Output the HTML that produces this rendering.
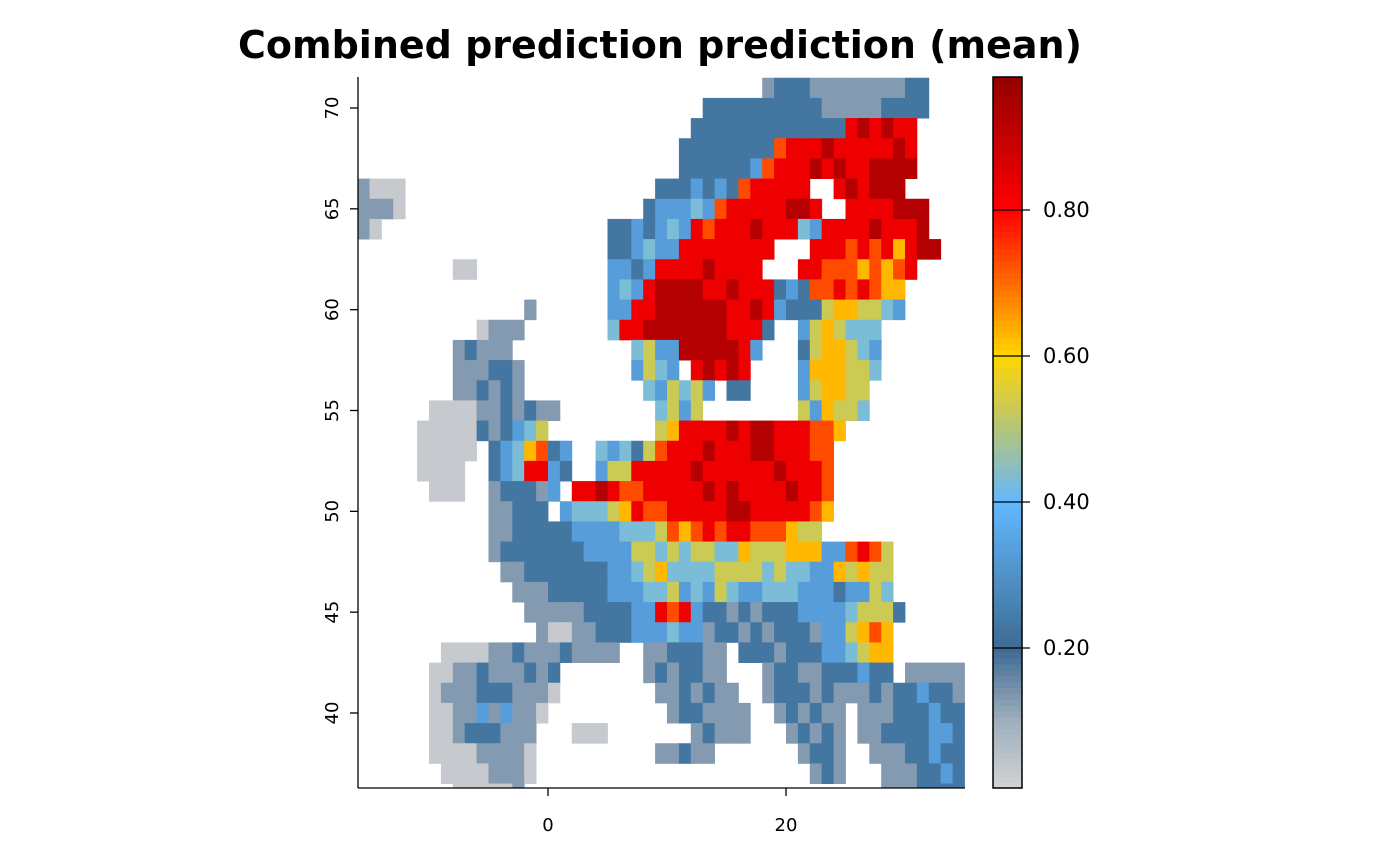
<!DOCTYPE html>
<html><head><meta charset="utf-8">
<style>
html,body{margin:0;padding:0;background:#fff;}
svg{display:block;font-family:"DejaVu Sans","Liberation Sans",sans-serif;}
</style></head>
<body>
<svg id="chart" width="1400" height="865" viewBox="0 0 1400 865" xmlns="http://www.w3.org/2000/svg">
<text x="660" y="58" text-anchor="middle" font-size="38" font-weight="bold">Combined prediction prediction (mean)</text>
<defs><clipPath id="plotclip"><rect x="358" y="77" width="607" height="711"/></clipPath></defs>
<g id="cells" clip-path="url(#plotclip)"></g>
<g id="axes"></g>
<g id="cbar"></g>
</svg>
<script>
// grid: 1-degree cells, lon -16..35, rows lat 71..36 (cell centers), digit d => value (d+0.3)/10
const lonStart = -16;
const rowLats = [71,70,69,68,67,66,65,64,63,62,61,60,59,58,57,56,55,54,53,52,51,50,49,48,47,46,45,44,43,42,41,40,39,38,37,36];
const rowSegments = [
 [[34,"12221111111122"]],
 [[29,"2222222222111112222"]],
 [[28,"2222222222222898988"]],
 [[27,"22222222788898888898"]],
 [[27,"22222237888989889999"]],
 [[0,"1000"],[25,"2223232788888..898999"]],
 [[0,"1110"],[24,"233343788888998..8888999"]],
 [[0,"10"],[21,"223234387888988843888898889"]],
 [[21,"22343388888888...88878786899"]],
 [[8,"00"],[21,"3323888898888...8877767678"]],
 [[21,"3438999988988823277878766"]],
 [[14,"1"],[21,"3388999999889832225665543"]],
 [[10,"0111"],[21,"48899999998882"],[37,"3565444"]],
 [[8,"12111"],[23,"45339999983"],[37,"2566543"]],
 [[8,"111221"],[23,"3543.89898"],[37,"3666554"]],
 [[8,"112121"],[24,"435453.22"],[37,"356655"]],
 [[6,"00001121211"],[25,"4535"],[37,"536554"]],
 [[5,"00000212345"],[25,"5688889899888776"]],
 [[5,"00000.2346723"],[20,"43425788898889988877"]],
 [[5,"0000..2348832"],[20,"35588888988888898887"]],
 [[6,"000..122213"],[18,"8898778888898988889887"]],
 [[11,"11222"],[17,"34445687788888998888876"]],
 [[11,"1122222333344457678788777655"]],
 [[11,"1222222233335545455446555666337875"]],
 [[12,"112222222334564444555545443365655"]],
 [[13,"11122222333445343543344433323354"]],
 [[14,"11111222233878322121222333345552"]],
 [[15,"100112223334331221212221335676"]],
 [[7,"000011211121111..1122211.2221222334566"]],
 [[6,"00112111212"],[24,"1212211"],[34,"12211222322"],[46,"11111"]],
 [[6,"01112221110"],[25,"1121211"],[34,"12221211121223221"]],
 [[6,"0011313110"],[26,"1221111"],[35,"121211"],[42,"111222322"]],
 [[6,"001222111"],[18,"000"],[28,"12111"],[36,"12121"],[42,"112222332"]],
 [[6,"000011110"],[25,"11211"],[37,"1221"],[43,"11122322"]],
 [[7,"00001110"],[38,"121"],[44,"1112232"]],
 [[8,"000001"],[44,"1112222"]]
];
const xTicks = [0,20];
const yTicks = [40,45,50,55,60,65,70];
const cbTicks = [0.2,0.4,0.6,0.8];
const cbTickLabels = ["0.20","0.40","0.60","0.80"];

const NS="http://www.w3.org/2000/svg";
const xs = lon => 548 + (786-548)/20*lon;
const ys = lat => 108 + (713-108)/30*(70-lat);
const cbY = v => 794 - v*(146/0.2);
const stops = [[0,[214,214,214]],[0.1,[160,175,190]],[0.2,[62,106,146]],[0.4,[99,184,255]],[0.5,[180,196,122]],[0.6,[255,215,0]],[0.8,[255,0,0]],[1,[139,0,0]]];
function col(v){
  for(let i=1;i<stops.length;i++){
    if(v<=stops[i][0]){
      const a=stops[i-1],b=stops[i],t=(v-a[0])/(b[0]-a[0]);
      const c=a[1].map((x,k)=>Math.round(x+(b[1][k]-x)*t));
      return `rgb(${c[0]},${c[1]},${c[2]})`;
    }
  }
  return "rgb(139,0,0)";
}
function mk(tag,attrs,parent){const e=document.createElementNS(NS,tag);for(const k in attrs)e.setAttribute(k,attrs[k]);parent.appendChild(e);return e;}

const cells=document.getElementById('cells');
rowSegments.forEach((segs,r)=>{
  const lat=rowLats[r];
  const y0=ys(lat+0.5), y1=ys(lat-0.5);
  segs.forEach(([start,str])=>{
    for(let j=0;j<str.length;j++){
      const ch=str[j]; if(ch==='.') continue;
      const v=(parseInt(ch)+0.3)/10;
      const lon=lonStart+start+j;
      const x0=xs(lon), x1=xs(lon+1);
      const rc=mk('rect',{x:x0.toFixed(2),y:y0.toFixed(2),width:(x1-x0+0.4).toFixed(2),height:(y1-y0+0.4).toFixed(2),fill:col(v)},cells);
      
      
    }
  });
});

const axes=document.getElementById('axes');
const yl=mk('line',{x1:358,y1:77,x2:358,y2:788,stroke:'#000','stroke-width':1.3},axes);


const xl=mk('line',{x1:358,y1:788,x2:965,y2:788,stroke:'#000','stroke-width':1.3},axes);


xTicks.forEach(t=>{
  const x=xs(t);
  mk('line',{x1:x,y1:788,x2:x,y2:796,stroke:'#000','stroke-width':1.3},axes);
  const tx=mk('text',{x:x,y:831,'text-anchor':'middle','font-size':18},axes);
  tx.textContent=t;
  
  
});
yTicks.forEach(t=>{
  const y=ys(t);
  mk('line',{x1:350,y1:y,x2:358,y2:y,stroke:'#000','stroke-width':1.3},axes);
  const tx=mk('text',{x:0,y:0,'text-anchor':'middle','font-size':18,transform:`translate(338,${y}) rotate(-90)`},axes);
  tx.textContent=t;
  
  
});

const cb=document.getElementById('cbar');
const vmin=0.008,vmax=0.982,n=120;
for(let i=0;i<n;i++){
  const va=vmin+(vmax-vmin)*i/n, vb=vmin+(vmax-vmin)*(i+1)/n;
  mk('rect',{x:993,y:cbY(vb),width:29,height:cbY(va)-cbY(vb)+0.5,fill:col((va+vb)/2)},cb);
}
const frame=mk('rect',{x:993,y:77,width:29,height:711,fill:'none',stroke:'#000','stroke-width':1.5},cb);


cbTicks.forEach((t,i)=>{
  const y=cbY(t);
  mk('line',{x1:993,y1:y,x2:1030,y2:y,stroke:'#000','stroke-width':1.3},cb);
  const tx=mk('text',{x:1043,y:y+7,'font-size':21},cb);
  tx.textContent=cbTickLabels[i];
  
  
});
</script>
</body></html>
